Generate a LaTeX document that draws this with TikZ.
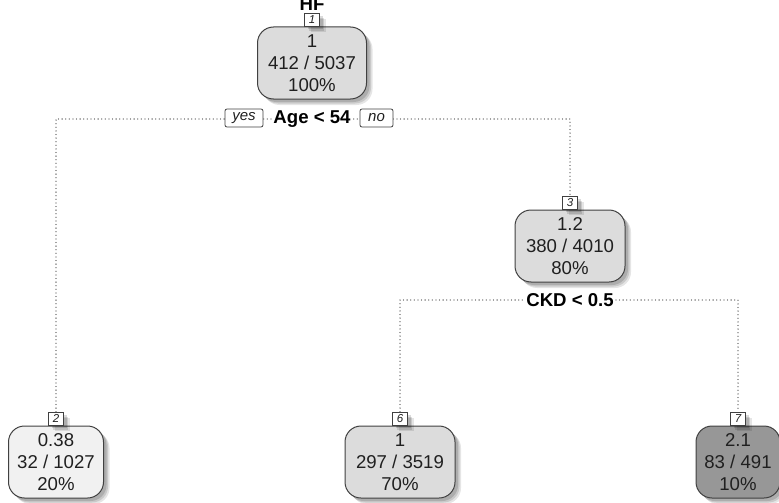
\documentclass[tikz,border=0pt]{standalone}
\usepackage{fontspec}
\setmainfont{Liberation Sans}
\usetikzlibrary{shadows}

\definecolor{inkc}{HTML}{202020}
\definecolor{boxmid}{HTML}{DCDCDC}
\definecolor{boxlight}{HTML}{F1F1F1}
\definecolor{boxdark}{HTML}{979797}
\definecolor{edgec}{HTML}{404040}

\tikzset{
  softshadow/.style={
    general shadow={fill=black, opacity=0.10, shadow xshift=6pt, shadow yshift=-6pt},
    general shadow={fill=black, opacity=0.12, shadow xshift=4.5pt, shadow yshift=-4.5pt},
    general shadow={fill=black, opacity=0.14, shadow xshift=3pt, shadow yshift=-3pt}},
  treebox/.style={draw=edgec, line width=1pt, rounded corners=16pt,
    minimum height=72pt, inner sep=0pt, align=center, text=inkc,
    font=\fontsize{18.6}{22}\selectfont, softshadow},
  numbox/.style={draw=edgec, line width=0.8pt, fill=white, minimum width=15pt,
    minimum height=13pt, inner sep=0pt, anchor=south, text=inkc,
    font=\fontsize{11.5}{12}\selectfont\itshape, softshadow},
  splitlabel/.style={fill=white, inner sep=1pt, text=black,
    font=\bfseries\fontsize{18.6}{20}\selectfont},
  sidetag/.style={draw=edgec, line width=0.8pt, fill=white, rounded corners=2pt,
    minimum height=18pt, inner sep=0pt, text=inkc,
    font=\itshape\fontsize{15}{16}\selectfont},
  dotline/.style={draw=edgec, line width=1.3pt, line cap=round,
    dash pattern=on 0pt off 3.6pt}
}

\begin{document}
\begin{tikzpicture}[x=1pt, y=-1pt]
\useasboundingbox (0,0) rectangle (779,503);

% title
\node[font=\bfseries\fontsize{18.6}{20}\selectfont, anchor=base] (title) at (312,11) {HF};

% tree nodes
\node[treebox, fill=boxmid, minimum width=109pt] (n1) at (312,63) {1\\412 / 5037\\100\%};
\node[numbox] (l1) at (n1.north) {1};

\node[treebox, fill=boxmid, minimum width=110pt] (n3) at (570,246) {1.2\\380 / 4010\\80\%};
\node[numbox] (l3) at (n3.north) {3};

\node[treebox, fill=boxlight, minimum width=95pt] (n2) at (56,462) {0.38\\32 / 1027\\20\%};
\node[numbox] (l2) at (n2.north) {2};

\node[treebox, fill=boxmid, minimum width=110pt] (n6) at (400,462) {1\\297 / 3519\\70\%};
\node[numbox] (l6) at (n6.north) {6};

\node[treebox, fill=boxdark, minimum width=84pt] (n7) at (738,462) {2.1\\83 / 491\\10\%};
\node[numbox] (l7) at (n7.north) {7};

% split connectors
\coordinate (s1) at (312,119);
\coordinate (s3) at (570,300);
\draw[dotline] (l2.north) |- (s1) -| (l3.north);
\draw[dotline] (l6.north) |- (s3) -| (l7.north);

% split labels
\node[splitlabel] (c1) at (s1) {Age < 54};
\node[sidetag, minimum width=38pt] (yes) at (244,118) {yes};
\node[sidetag, minimum width=33pt] (no) at (376.5,118) {no};
\node[splitlabel] (c3) at (s3) {CKD < 0.5};
\end{tikzpicture}
\end{document}
